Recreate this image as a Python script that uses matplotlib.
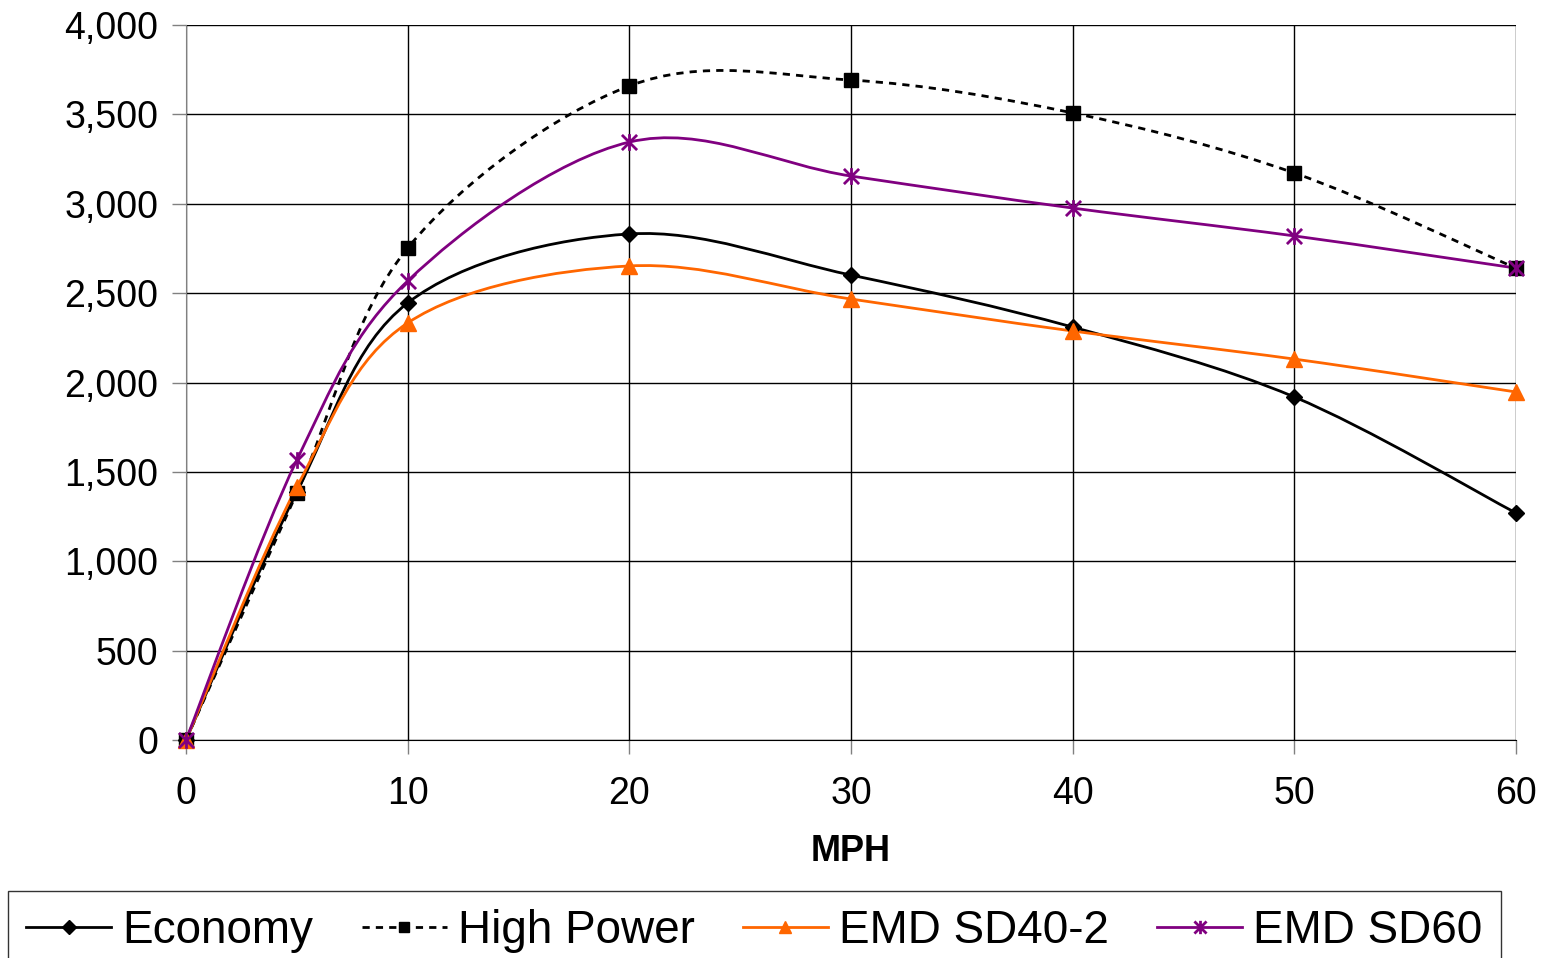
"""Tractive effort vs speed chart."""
import matplotlib
matplotlib.use('Agg')
import matplotlib.pyplot as plt
import numpy as np
from matplotlib.path import Path
from matplotlib.patches import PathPatch
from matplotlib.lines import Line2D
from matplotlib.ticker import FuncFormatter, MultipleLocator

plt.rcParams['font.family'] = ['Liberation Sans', 'DejaVu Sans']

mph = [0, 5, 10, 20, 30, 40, 50, 60]
economy = [0, 1387, 2445, 2831, 2601, 2310, 1919, 1270]
high_power = [0, 1382, 2752, 3659, 3692, 3508, 3172, 2640]
sd40_2 = [0, 1415, 2333, 2652, 2467, 2288, 2131, 1947]
sd60 = [0, 1566, 2568, 3345, 3155, 2976, 2820, 2640]

# Excel-like star marker: an X with a vertical bar through it
star = Path([(-1, -1), (1, 1), (-1, 1), (1, -1), (0, -1.1), (0, 1.1)],
            [Path.MOVETO, Path.LINETO] * 3)

series = [
    ('Economy', economy, dict(color='black', ls='-', marker='D', ms=8.5)),
    ('High Power', high_power, dict(color='black', ls=(0, (2.6, 2.2)), marker='s', ms=9.5)),
    ('EMD SD40-2', sd40_2, dict(color='#FF6600', ls='-', marker='^', ms=11)),
    ('EMD SD60', sd60, dict(color='#800080', ls='-', marker=star, ms=12)),
]


def smooth_path(x, y):
    # Excel-style smoothed line: cubic Bezier through the points
    pts = np.column_stack([x, y]).astype(float)
    n = len(pts)
    verts = [pts[0]]
    codes = [Path.MOVETO]
    for i in range(n - 1):
        p0 = pts[i - 1] if i > 0 else pts[i]
        p1, p2 = pts[i], pts[i + 1]
        p3 = pts[i + 2] if i + 2 < n else pts[i + 1]
        verts += [p1 + (p2 - p0) / 6, p2 - (p3 - p1) / 6, p2]
        codes += [Path.CURVE4] * 3
    return Path(verts, codes)


fig = plt.figure(figsize=(15.48, 9.58), dpi=100)
ax = fig.add_axes([186 / 1548, 1 - 740 / 958, 1330 / 1548, 715 / 958])

handles = []
for name, vals, st in series:
    patch = PathPatch(smooth_path(mph, vals), fill=False, edgecolor=st['color'],
                      lw=2, linestyle=st['ls'], zorder=3, capstyle='butt')
    ax.add_patch(patch)
    ax.plot(mph, vals, ls='none', marker=st['marker'], ms=st['ms'], color=st['color'],
            mec=st['color'], mew=2 if name == 'EMD SD60' else 1, zorder=4, clip_on=False)
    handles.append(Line2D([], [], color=st['color'], lw=2, linestyle=st['ls'],
                          marker=st['marker'], ms=st['ms'] * 0.8,
                          mew=2 if name == 'EMD SD60' else 1))

ax.set_xlim(0, 60)
ax.set_ylim(0, 4000)
ax.xaxis.set_major_locator(MultipleLocator(10))
ax.yaxis.set_major_locator(MultipleLocator(500))
ax.yaxis.set_major_formatter(FuncFormatter(lambda v, p: f'{v:,.0f}'))
ax.grid(True, color='black', lw=1)
ax.set_axisbelow(True)
for s in ['top', 'right']:
    ax.spines[s].set_visible(False)
ax.spines['left'].set_color('#808080')
ax.spines['bottom'].set_color('black')
ax.tick_params(axis='both', labelsize=27, length=10, width=1, color='#808080')
ax.tick_params(axis='y', pad=10)
ax.tick_params(axis='x', pad=16)
ax.set_xlabel('MPH', fontsize=26, fontweight='bold', labelpad=16)

leg = fig.legend(handles, [s[0] for s in series], loc='upper left', ncol=4,
                 bbox_to_anchor=(8 / 1548, 1 - 891 / 958), fontsize=33,
                 frameon=True, fancybox=False, edgecolor='black',
                 handlelength=1.85, handletextpad=0.25, columnspacing=1.05,
                 borderpad=0.4, borderaxespad=0)
leg.get_frame().set_linewidth(1)

fig.savefig('out.png', dpi=100)
